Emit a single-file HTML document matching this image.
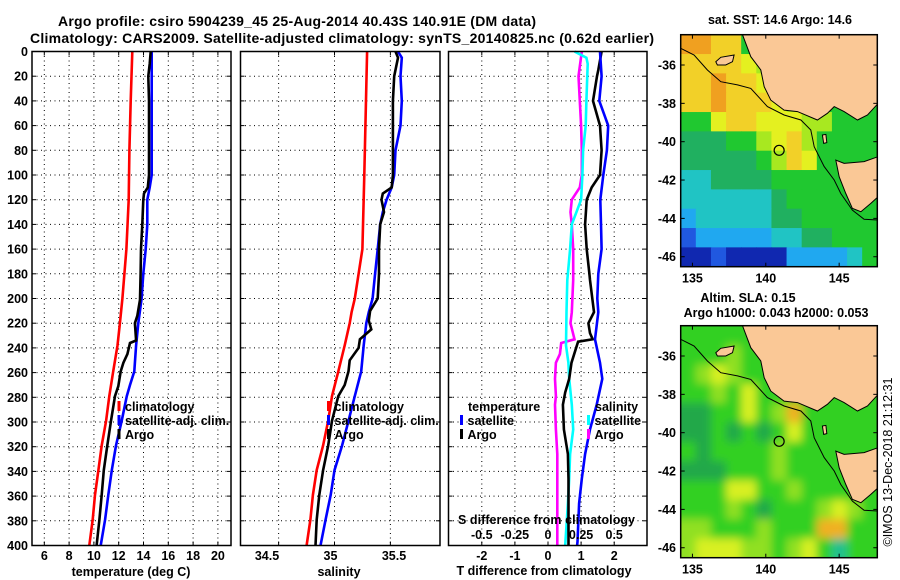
<!DOCTYPE html>
<html><head><meta charset="utf-8"><style>
html,body{margin:0;padding:0;background:#fff;}
svg{display:block;}
text{font-family:"Liberation Sans",Arial,sans-serif;font-weight:bold;fill:#000;}
</style></head><body>
<svg id="fig" width="900" height="580" viewBox="0 0 900 580" xmlns="http://www.w3.org/2000/svg">
<defs>
<clipPath id="clipMap1"><rect x="680.7" y="34.7" width="196.6" height="232"/></clipPath>
<clipPath id="clipMap2"><rect x="680.7" y="325.7" width="196.6" height="232"/></clipPath>
<filter id="blur" x="-10%" y="-10%" width="120%" height="120%"><feGaussianBlur stdDeviation="4.5"/></filter>
</defs>
<text x="297" y="26" text-anchor="middle" font-size="14" textLength="478">Argo profile: csiro 5904239_45 25-Aug-2014 40.43S 140.91E (DM data)</text>
<text x="342" y="43" text-anchor="middle" font-size="14" textLength="624">Climatology: CARS2009. Satellite-adjusted climatology: synTS_20140825.nc (0.62d earlier)</text>
<g id="g"></g>
</svg>
<script>
// ---------- data ----------
const depthTicks = [0,20,40,60,80,100,120,140,160,180,200,220,240,260,280,300,320,340,360,380,400];
const tTicks = [6,8,10,12,14,16,18,20];
const sTicks = [34.5,35,35.5];
const sGrid = [34.56,35,35.44];
const dTTicks = [-2,-1,0,1,2];
const dSTicks = [-0.5,-0.25,0,0.25,0.5];
const dSTickLabels = ["-0.5","-0.25","0","0.25","0.5"];

const tClimDepth = [0,40,80,120,160,200,220,238,259,279,299,319,339,359,379,400];
const tClim = [13.10,12.97,12.86,12.81,12.62,12.3,12.1,11.9,11.56,11.24,10.98,10.63,10.36,10.09,9.9,9.63];
const tSatDepth = [0,80,100,110,120,140,160,180,200,220,238,259,270,279,299,319,339,359,379,400];
const tSat = [14.66,14.66,14.66,14.5,14.31,14.31,14.18,13.98,13.85,13.58,13.40,13.26,12.91,12.65,12.24,11.78,11.44,11.16,10.9,10.55];
const tArgoDepth = [0,10,20,40,100,110,115,120,140,160,180,201,214,220,234,236,245,252,259,271,279,299,319,339,359,379,400];
const tArgo = [14.58,14.5,14.39,14.44,14.44,14.35,14.04,13.98,13.9,13.8,13.77,13.72,13.5,13.31,13.4,12.91,12.7,12.38,12.16,11.97,11.7,11.38,11.08,10.8,10.63,10.44,10.22];

const sClimDepth = [0,100,160,200,211,220,238,259,279,299,319,339,359,379,400];
const sClim = [35.257,35.235,35.22,35.16,35.135,35.12,35.08,35.03,34.98,34.95,34.91,34.86,34.83,34.81,34.78];
const sSatDepth = [0,5,20,40,60,80,100,110,120,130,140,160,180,200,211,220,238,259,279,299,319,339,359,379,400];
const sSat = [35.50,35.53,35.52,35.53,35.52,35.48,35.47,35.45,35.41,35.38,35.36,35.34,35.32,35.30,35.27,35.25,35.23,35.21,35.16,35.11,35.06,35.00,34.97,34.93,34.89];
const sArgoDepth = [0,5,20,40,100,110,115,120,130,140,160,180,200,210,218,225,233,240,250,259,270,279,299,319,339,359,379,400];
const sArgo = [35.48,35.50,35.47,35.46,35.46,35.45,35.38,35.37,35.39,35.36,35.35,35.35,35.34,35.28,35.27,35.29,35.20,35.19,35.12,35.11,35.08,35.03,34.98,34.95,34.91,34.88,34.86,34.85];

const dTSatDepth = [0,20,40,60,80,100,120,140,160,180,200,211,233,252,265,286,306,326,346,366,397,400];
const dTSat = [1.57,1.62,1.55,1.82,1.78,1.67,1.58,1.6,1.62,1.52,1.49,1.52,1.42,1.57,1.64,1.47,1.27,1.12,1.02,0.94,0.89,0.88];
const dTArgoDepth = [0,15,20,40,60,80,100,110,120,140,160,180,185,211,220,228,233,235,239,252,265,276,286,306,326,346,366,400];
const dTArgo = [1.62,1.52,1.48,1.36,1.57,1.62,1.57,1.32,1.17,1.12,1.17,1.25,1.27,1.39,1.22,1.27,1.35,0.91,0.86,0.71,0.64,0.52,0.45,0.48,0.6,0.62,0.62,0.62];
const dSArgoDepth = [0,20,40,60,80,100,110,120,130,140,160,185,211,220,233,236,245,252,265,279,286,306,326,346,366,400];
const dSArgo = [0.255,0.23,0.24,0.25,0.255,0.255,0.24,0.18,0.17,0.18,0.19,0.19,0.18,0.17,0.2,0.10,0.09,0.06,0.053,0.06,0.053,0.06,0.07,0.07,0.07,0.07];
const dSSatDepth = [0,5,10,40,60,80,100,120,140,160,185,211,238,252,265,286,306,326,346,366,400];
const dSSat = [0.2,0.29,0.30,0.29,0.285,0.265,0.26,0.25,0.18,0.167,0.146,0.14,0.136,0.154,0.16,0.18,0.19,0.167,0.16,0.15,0.13];

// maps
const lonTicks = [135,140,145];
const latTicks = [-36,-38,-40,-42,-44,-46];
const argoLon = 140.91, argoLat = -40.45;
const sstRows = [
"OOYYGLGGGGGGG",
"YYYYyLGGGGGGG",
"YYOYYyYLGGGGG",
"YYOYYYyLLGGGG",
"GGyYYyyyLLGGG",
"gggGGLyYLGGGG",
"gggggGLYyGGGG",
"CCggggGGGGGGG",
"CCCCCCgGGGGGG",
"BCCCCCggGGGGG",
"DBBBBBCCggGGG",
"NNDNNNNBBBBCG"];
const slaRows = [
"GGGGGllGGGGGG",
"GGGlGGGGGGGGG",
"GlylGGGGGGGGG",
"GGlGyGGGGGGGG",
"ddGGyGloGGGGG",
"ddGdGdGyGGGGG",
"GdGGGGlGGGGGG",
"dddGGGlGGGGGG",
"GGGyyGGlGGGGG",
"GGGlGdGGGlylG",
"llGGGlGGGooGG",
"lyyyllGlyGCGG"];
const coastLon = [138.41,138.98,139.66,139.89,140.34,141.25,142.16,143.52,144.2,144.66,145.34,146.25,146.93,147.66,147.7,138.41];
const coastLat = [-34.42,-35.57,-36.26,-37.13,-37.83,-38.35,-38.43,-38.87,-38.52,-38.17,-38.43,-38.87,-38.61,-38.0,-34.3,-34.3];
const tasLon = [144.77,145.34,146.7,147.66,147.66,147.16,146.48,145.9,145.45,145.0];
const tasLat = [-40.96,-41.13,-41.04,-40.78,-42.87,-43.22,-43.65,-43.48,-42.7,-41.83];
const kiLon = [136.59,136.93,137.84,137.73,137.27,136.7];
const kiLat = [-35.83,-35.6,-35.48,-35.83,-36.0,-36.0];
const kingLon = [143.86,144.1,144.16,143.95];
const kingLat = [-39.65,-39.62,-40.05,-40.09];
const contourLon = [134.2,135.11,136.02,136.93,138.07,138.98,140.11,141.25,142.39,143.07,143.3,143.98,144.66,145.11,145.9,146.7,147.66];
const contourLat = [-35.13,-35.48,-36.26,-36.87,-37.04,-37.22,-38.17,-38.61,-38.87,-39.39,-40.26,-41.3,-42.0,-42.7,-43.57,-44.05,-44.09];

// ---------- helpers ----------
const NS = "http://www.w3.org/2000/svg";
const root = document.getElementById('g');
function el(tag, attrs, parent){ const e=document.createElementNS(NS,tag); for(const k in attrs) e.setAttribute(k,attrs[k]); (parent||root).appendChild(e); return e; }
function txt(s, attrs, parent){ const e=el('text',attrs,parent); e.textContent=s; return e; }

const yTop=51.5, yBot=545.5;
function yScale(d){ return yTop + (d/400)*(yBot-yTop); }
const panels = [
 {x0:32,x1:231,name:'temperature-panel'},
 {x0:240.5,x1:440,name:'salinity-panel'},
 {x0:448.5,x1:647,name:'difference-panel'}];
const xT = v => 44.3 + (v-6)*12.4;
const xS = v => 334.5 + (v-35)*127;
const xDT = v => 548 + v*33.1;
const xDS = v => 548 + v*132.4;

function frame(p, gridXs){
  const g = el('g',{});
  
  
  depthTicks.forEach(d=>{ if(d>0&&d<400){ el('line',{x1:p.x0,x2:p.x1,y1:yScale(d),y2:yScale(d),stroke:'#000','stroke-width':1,'stroke-dasharray':'1,3.5'},g);
    el('line',{x1:p.x0,x2:p.x0+4,y1:yScale(d),y2:yScale(d),stroke:'#000'},g);
    el('line',{x1:p.x1-4,x2:p.x1,y1:yScale(d),y2:yScale(d),stroke:'#000'},g);} });
  gridXs.forEach(x=>{ el('line',{x1:x,x2:x,y1:yTop,y2:yBot,stroke:'#000','stroke-width':1,'stroke-dasharray':'1,3.5'},g);
    el('line',{x1:x,x2:x,y1:yTop,y2:yTop+4,stroke:'#000'},g);
    el('line',{x1:x,x2:x,y1:yBot-4,y2:yBot,stroke:'#000'},g);});
  return g;
}
function line(depths, vals, sx, color, name, parent){
  const pts = depths.map((d,i)=> sx(vals[i]).toFixed(1)+','+yScale(d).toFixed(1)).join(' ');
  const e = el('polyline',{points:pts,fill:'none',stroke:color,'stroke-width':2.6,'stroke-linejoin':'miter'},parent);
  
  
  return e;
}
function box(p){ el('rect',{x:p.x0,y:yTop,width:p.x1-p.x0,height:yBot-yTop,fill:'none',stroke:'#000','stroke-width':1.5}); }

// ---------- panel 1 ----------
const g1 = frame(panels[0], tTicks.map(xT));
line(tClimDepth,tClim,xT,'#ff0000','temperature-climatology-line',g1);
line(tSatDepth,tSat,xT,'#0000ff','temperature-satellite-line',g1);
line(tArgoDepth,tArgo,xT,'#000000','temperature-argo-line',g1);
box(panels[0]);
depthTicks.forEach(d=>{ const t=txt(String(d),{x:28,y:yScale(d)+4.5,'text-anchor':'end','font-size':12.5});
    });
tTicks.forEach(v=>{ const t=txt(String(v),{x:xT(v),y:560,'text-anchor':'middle','font-size':12.5});
    });
txt('temperature (deg C)',{x:131,y:576,'text-anchor':'middle','font-size':12.5});

// ---------- panel 2 ----------
const g2 = frame(panels[1], sGrid.map(xS));
line(sClimDepth,sClim,xS,'#ff0000','salinity-climatology-line',g2);
line(sSatDepth,sSat,xS,'#0000ff','salinity-satellite-line',g2);
line(sArgoDepth,sArgo,xS,'#000000','salinity-argo-line',g2);
box(panels[1]);
sTicks.forEach(v=>{ const t=txt(String(v),{x:xS(v)-4,y:560,'text-anchor':'middle','font-size':12.5});
    });
txt('salinity',{x:339,y:576,'text-anchor':'middle','font-size':12.5});

// ---------- panel 3 ----------
const g3 = frame(panels[2], dTTicks.map(xDT));
line(dSArgoDepth,dSArgo,xDS,'#ff00ff','salinity-diff-argo-line',g3);
line(dSSatDepth,dSSat,xDS,'#00ffff','salinity-diff-satellite-line',g3);
line(dTArgoDepth,dTArgo,xDT,'#000000','temperature-diff-argo-line',g3);
line(dTSatDepth,dTSat,xDT,'#0000ff','temperature-diff-satellite-line',g3);
box(panels[2]);
dTTicks.forEach(v=>{ const t=txt(String(v),{x:xDT(v),y:560,'text-anchor':'middle','font-size':12.5});
    });
dSTicks.forEach((v,i)=>{ const t=txt(dSTickLabels[i],{x:xDS(v),y:539,'text-anchor':'middle','font-size':12.5});
    });
txt('S difference from climatology',{x:458,y:524,'font-size':12.5,textLength:177});
txt('T difference from climatology',{x:544,y:575,'text-anchor':'middle','font-size':12.5});

// ---------- legends ----------
function legendEntry(x,y,color,label,name){
  const g=el('g',{});
  
  
  el('line',{x1:x,x2:x,y1:y-10,y2:y,stroke:color,'stroke-width':3},g);
  txt(label,{x:x+6,y:y,'font-size':12.5},g);
}
legendEntry(119,411,'#ff0000','climatology','legend-entry-climatology');
legendEntry(119,425,'#0000ff','satellite-adj. clim.','legend-entry-satellite');
legendEntry(119,439,'#000000','Argo','legend-entry-argo');
legendEntry(328.5,411,'#ff0000','climatology','legend-entry-climatology-s');
legendEntry(328.5,425,'#0000ff','satellite-adj. clim.','legend-entry-satellite-s');
legendEntry(328.5,439,'#000000','Argo','legend-entry-argo-s');
txt('temperature',{x:468,y:411,'font-size':12.5});
legendEntry(461.5,425,'#0000ff','satellite','legend-entry-t-satellite');
legendEntry(461.5,439,'#000000','Argo','legend-entry-t-argo');
txt('salinity',{x:595,y:411,'font-size':12.5});
legendEntry(588.5,425,'#00ffff','satellite','legend-entry-s-satellite');
legendEntry(588.5,439,'#ff00ff','Argo','legend-entry-s-argo');

// ---------- maps ----------
const lonMin=134.2, lonMax=147.6, latMax=-34.42, latMin=-46.52;
const mapX0=680.7, mapW=196.6, mapH=232;
const codeColorSST = {O:'#f0a020',Y:'#f2d028',y:'#e4f020',L:'#a8e820',G:'#20c830',g:'#20b060',C:'#20c4c4',B:'#20a8f0',D:'#2058e0',N:'#1028b0'};
const codeColorSLA = {G:'#30d020',l:'#90e020',y:'#d8f020',o:'#f0b020',d:'#20a848',C:'#20c090'};
function makeMap(y0, rows, colors, clipId, name, blur){
  const px = lon => mapX0 + (lon-lonMin)/(lonMax-lonMin)*mapW;
  const py = lat => y0 + (latMax-lat)/(latMax-latMin)*mapH;
  const g = el('g',{'clip-path':'url(#'+clipId+')'});
  
  
  const hg = el('g', blur?{filter:'url(#blur)'}:{}, g);
  const nr=rows.length, nc=rows[0].length;
  const dLon=(lonMax-lonMin)/nc, dLat=(latMax-latMin)/nr;
  rows.forEach((row,r)=>{ for(let c=0;c<nc;c++){
    const x=px(lonMin+c*dLon), y=py(latMax-r*dLat);
    const ex = (blur && (c===0||c===nc-1||r===0||r===nr-1)) ? 8 : 0;
    const cell=el('rect',{x:x-(c===0?ex:0),y:y-(r===0?ex:0),width:px(lonMin+(c+1)*dLon)-x+0.6+(c===0||c===nc-1?ex:0),height:py(latMax-(r+1)*dLat)-y+0.6+(r===0||r===nr-1?ex:0),fill:colors[row[c]]},hg);
    
    
  }});
  function poly(lons,lats,fill,stroke,nm,closed){
    const pts=lons.map((l,i)=>px(l).toFixed(1)+','+py(lats[i]).toFixed(1)).join(' ');
    const e=el(closed?'polygon':'polyline',{points:pts,fill:fill,stroke:stroke,'stroke-width':1},g);
     
  }
  poly(coastLon,coastLat,'#fac896','#000','mainland',true);
  poly(tasLon,tasLat,'#fac896','#000','tasmania',true);
  poly(kiLon,kiLat,'#fac896','#000','kangaroo-island',true);
  poly(kingLon,kingLat,'#fac896','#000','king-island',true);
  poly(contourLon,contourLat,'none','#000','shelf-contour',false);
  const c=el('circle',{cx:px(argoLon),cy:py(argoLat),r:5,fill:'none',stroke:'#000','stroke-width':1.2},g);
   
  el('rect',{x:mapX0,y:y0,width:mapW,height:mapH,fill:'none',stroke:'#000','stroke-width':1.5});
  lonTicks.forEach(l=>{ el('line',{x1:px(l),x2:px(l),y1:y0,y2:y0+4,stroke:'#000'}); el('line',{x1:px(l),x2:px(l),y1:y0+mapH-4,y2:y0+mapH,stroke:'#000'});
    const t=txt(String(l),{x:px(l),y:y0+mapH+16,'text-anchor':'middle','font-size':12.5});
      });
  latTicks.forEach(l=>{ el('line',{x1:mapX0+mapW-4,x2:mapX0+mapW,y1:py(l),y2:py(l),stroke:'#000'});
    el('line',{x1:mapX0,x2:mapX0+4,y1:py(l),y2:py(l),stroke:'#000'});
    const t=txt(String(l),{x:676,y:py(l)+4.5,'text-anchor':'end','font-size':12.5});
      });
}
makeMap(34.7, sstRows, codeColorSST, 'clipMap1', 'sst-map', false);
makeMap(325.7, slaRows, codeColorSLA, 'clipMap2', 'sla-map', true);
txt('sat. SST: 14.6 Argo: 14.6',{x:780,y:24,'text-anchor':'middle','font-size':12.5});
txt('Altim. SLA: 0.15',{x:748,y:302,'text-anchor':'middle','font-size':12.5});
txt('Argo h1000: 0.043 h2000: 0.053',{x:776,y:317,'text-anchor':'middle','font-size':12.5});
const im = txt('©IMOS 13-Dec-2018 21:12:31',{x:0,y:0,'text-anchor':'middle','font-size':12.5,transform:'translate(892,462) rotate(-90)'});
im.setAttribute('style','font-weight:normal');


</script>
</body></html>
